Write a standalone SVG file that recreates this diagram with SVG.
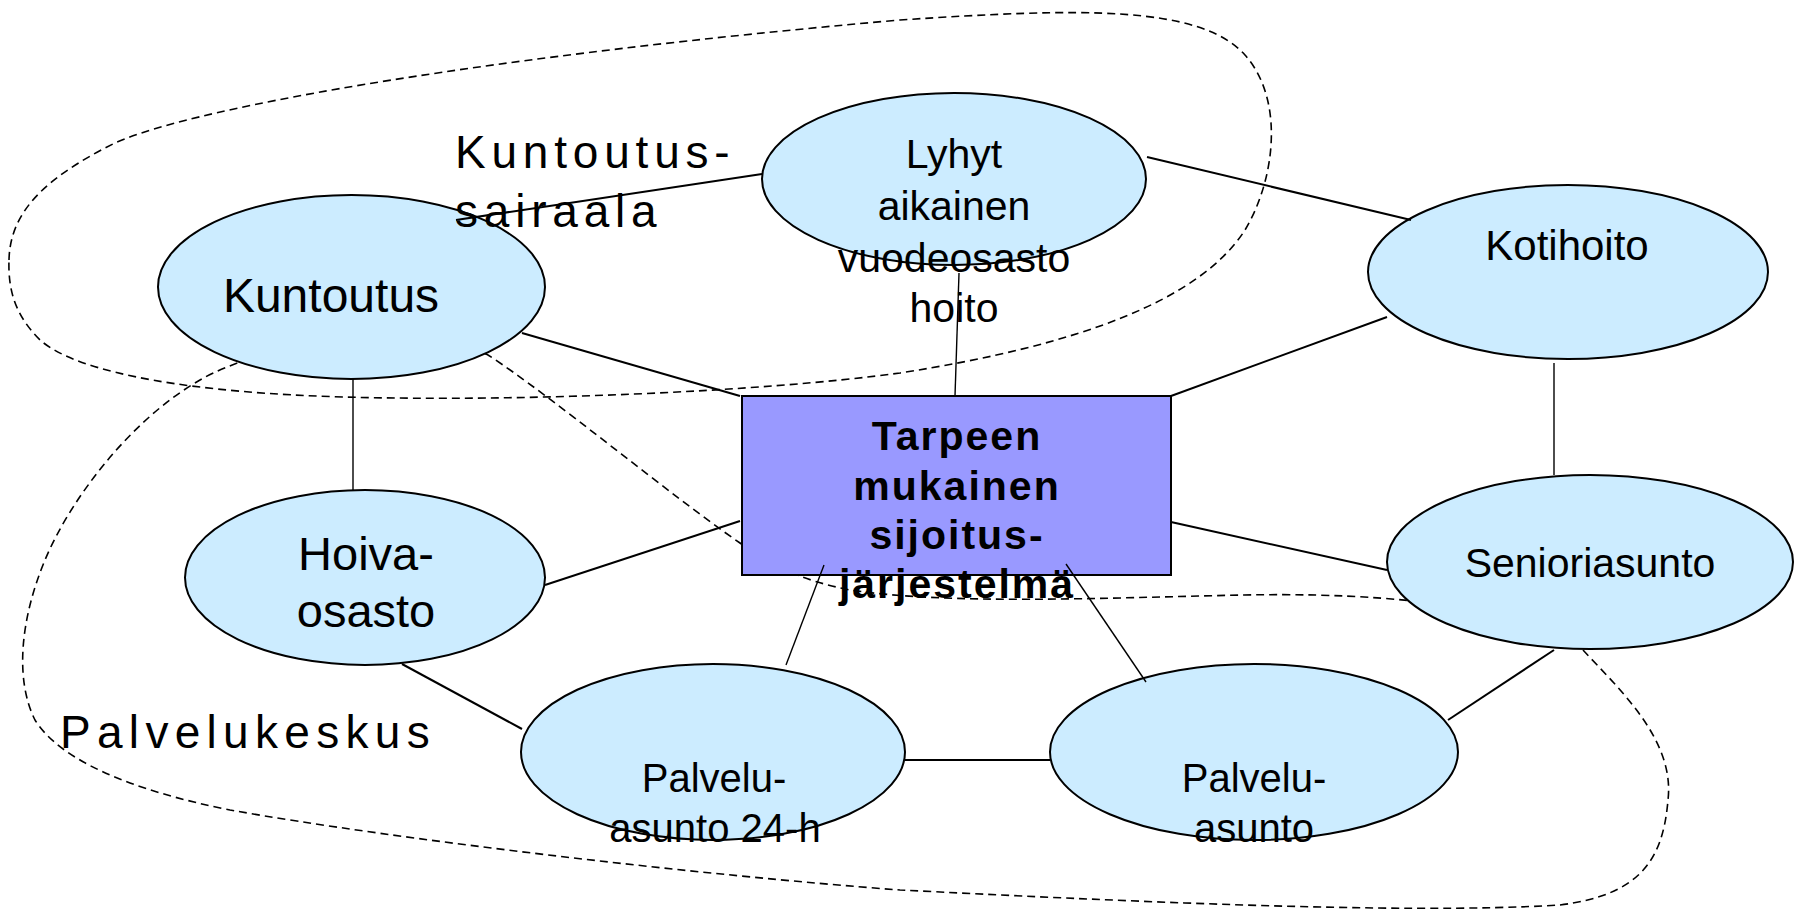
<svg xmlns="http://www.w3.org/2000/svg" width="1799" height="913" viewBox="0 0 1799 913">
<style>
.bg{fill:#ffffff}
.node ellipse{fill:#CCECFF;stroke:#000;stroke-width:2}
.center rect{fill:#9999FF;stroke:#000;stroke-width:2}
.dash{fill:none;stroke:#000;stroke-width:1.6;stroke-dasharray:8 5}
.conn line{stroke:#000;stroke-width:2}
.conn line.thin{stroke-width:1.4}
text{font-family:"Liberation Sans",Arial,sans-serif;fill:#000;text-anchor:middle}
.lbl{text-anchor:start;font-size:46px}
.bold{font-weight:bold;font-size:41px;letter-spacing:2px}
</style>
<rect class="bg" x="0" y="0" width="1799" height="913"/>
<g id="regions">
<path id="kuntoutussairaala-region" class="dash" d="M 9,260 C 10,215 40,180 115,143 C 200,105 500,55 900,20 C 1080,8 1200,5 1245,55 C 1285,100 1275,180 1245,230 C 1200,300 1080,345 900,373 C 760,392 520,402 344,397 C 200,393 80,375 40,340 C 15,315 8,290 9,260 Z"/>
<path id="palvelukeskus-region" class="dash" d="M 1583,650 C 1620,690 1675,740 1668,800 C 1663,860 1640,895 1560,905 C 1400,915 1100,900 900,890 C 700,875 400,840 230,810 C 130,790 60,760 35,720 C 15,680 20,620 45,560 C 70,500 130,420 200,380 C 260,345 400,320 488,355 C 550,395 670,495 740,543 C 770,565 800,580 850,590 C 950,605 1100,598 1244,595 C 1350,593 1420,600 1480,610 C 1540,620 1570,635 1583,650 Z"/>
</g>
<g id="node-lyhyt" class="node">
<ellipse cx="954" cy="179" rx="192" ry="86"/>
<text font-size="41"><tspan x="954" y="168">Lyhyt</tspan><tspan x="954" y="220">aikainen</tspan><tspan x="954" y="272">vuodeosasto</tspan><tspan x="954" y="322">hoito</tspan></text>
</g>
<g id="node-kuntoutus" class="node">
<ellipse cx="351.5" cy="287" rx="193.5" ry="92"/>
<text x="331" y="312" font-size="48">Kuntoutus</text>
</g>
<g id="node-kotihoito" class="node">
<ellipse cx="1568" cy="272" rx="200" ry="87"/>
<text x="1567" y="260" font-size="42">Kotihoito</text>
</g>
<g id="node-hoiva" class="node">
<ellipse cx="365" cy="577.5" rx="180" ry="87.5"/>
<text font-size="47"><tspan x="366" y="570">Hoiva-</tspan><tspan x="366" y="627">osasto</tspan></text>
</g>
<g id="node-senioriasunto" class="node">
<ellipse cx="1590" cy="562" rx="203" ry="87"/>
<text x="1590" y="577" font-size="41">Senioriasunto</text>
</g>
<g id="node-palveluasunto24" class="node">
<ellipse cx="713" cy="752" rx="192" ry="88"/>
<text font-size="40"><tspan x="714" y="792">Palvelu-</tspan><tspan x="715" y="842">asunto 24-h</tspan></text>
</g>
<g id="node-palveluasunto" class="node">
<ellipse cx="1254" cy="752" rx="204" ry="88"/>
<text font-size="40"><tspan x="1254" y="792">Palvelu-</tspan><tspan x="1254" y="842">asunto</tspan></text>
</g>
<g id="node-center" class="center">
<rect x="742" y="396" width="429" height="179"/>
<text class="bold"><tspan x="957" y="450">Tarpeen</tspan><tspan x="957" y="500">mukainen</tspan><tspan x="957" y="549">sijoitus-</tspan><tspan x="957" y="598">järjestelmä</tspan></text>
</g>
<g id="connectors" class="conn">
<line x1="456" y1="220" x2="762" y2="174"/>
<line x1="522" y1="333" x2="740" y2="396"/>
<line class="thin" x1="959" y1="273" x2="955" y2="396"/>
<line x1="1147" y1="157" x2="1411" y2="220"/>
<line x1="1387" y1="317" x2="1171" y2="396"/>
<line class="thin" x1="1554" y1="363" x2="1554" y2="475"/>
<line class="thin" x1="353" y1="379" x2="353" y2="490"/>
<line x1="545" y1="585" x2="740" y2="521"/>
<line x1="402" y1="664" x2="522" y2="729"/>
<line class="thin" x1="786" y1="665" x2="824" y2="565"/>
<line class="thin" x1="1146" y1="682" x2="1066" y2="564"/>
<line x1="905" y1="760" x2="1050" y2="760"/>
<line x1="1554" y1="650" x2="1448" y2="720"/>
<line x1="1171" y1="522" x2="1387" y2="570"/>
</g>
<g id="labels">
<text class="lbl" letter-spacing="5.8"><tspan x="455" y="168">Kuntoutus-</tspan><tspan x="455" y="227">sairaala</tspan></text>
<text class="lbl" x="60" y="748" letter-spacing="6.3">Palvelukeskus</text>
</g>
</svg>
